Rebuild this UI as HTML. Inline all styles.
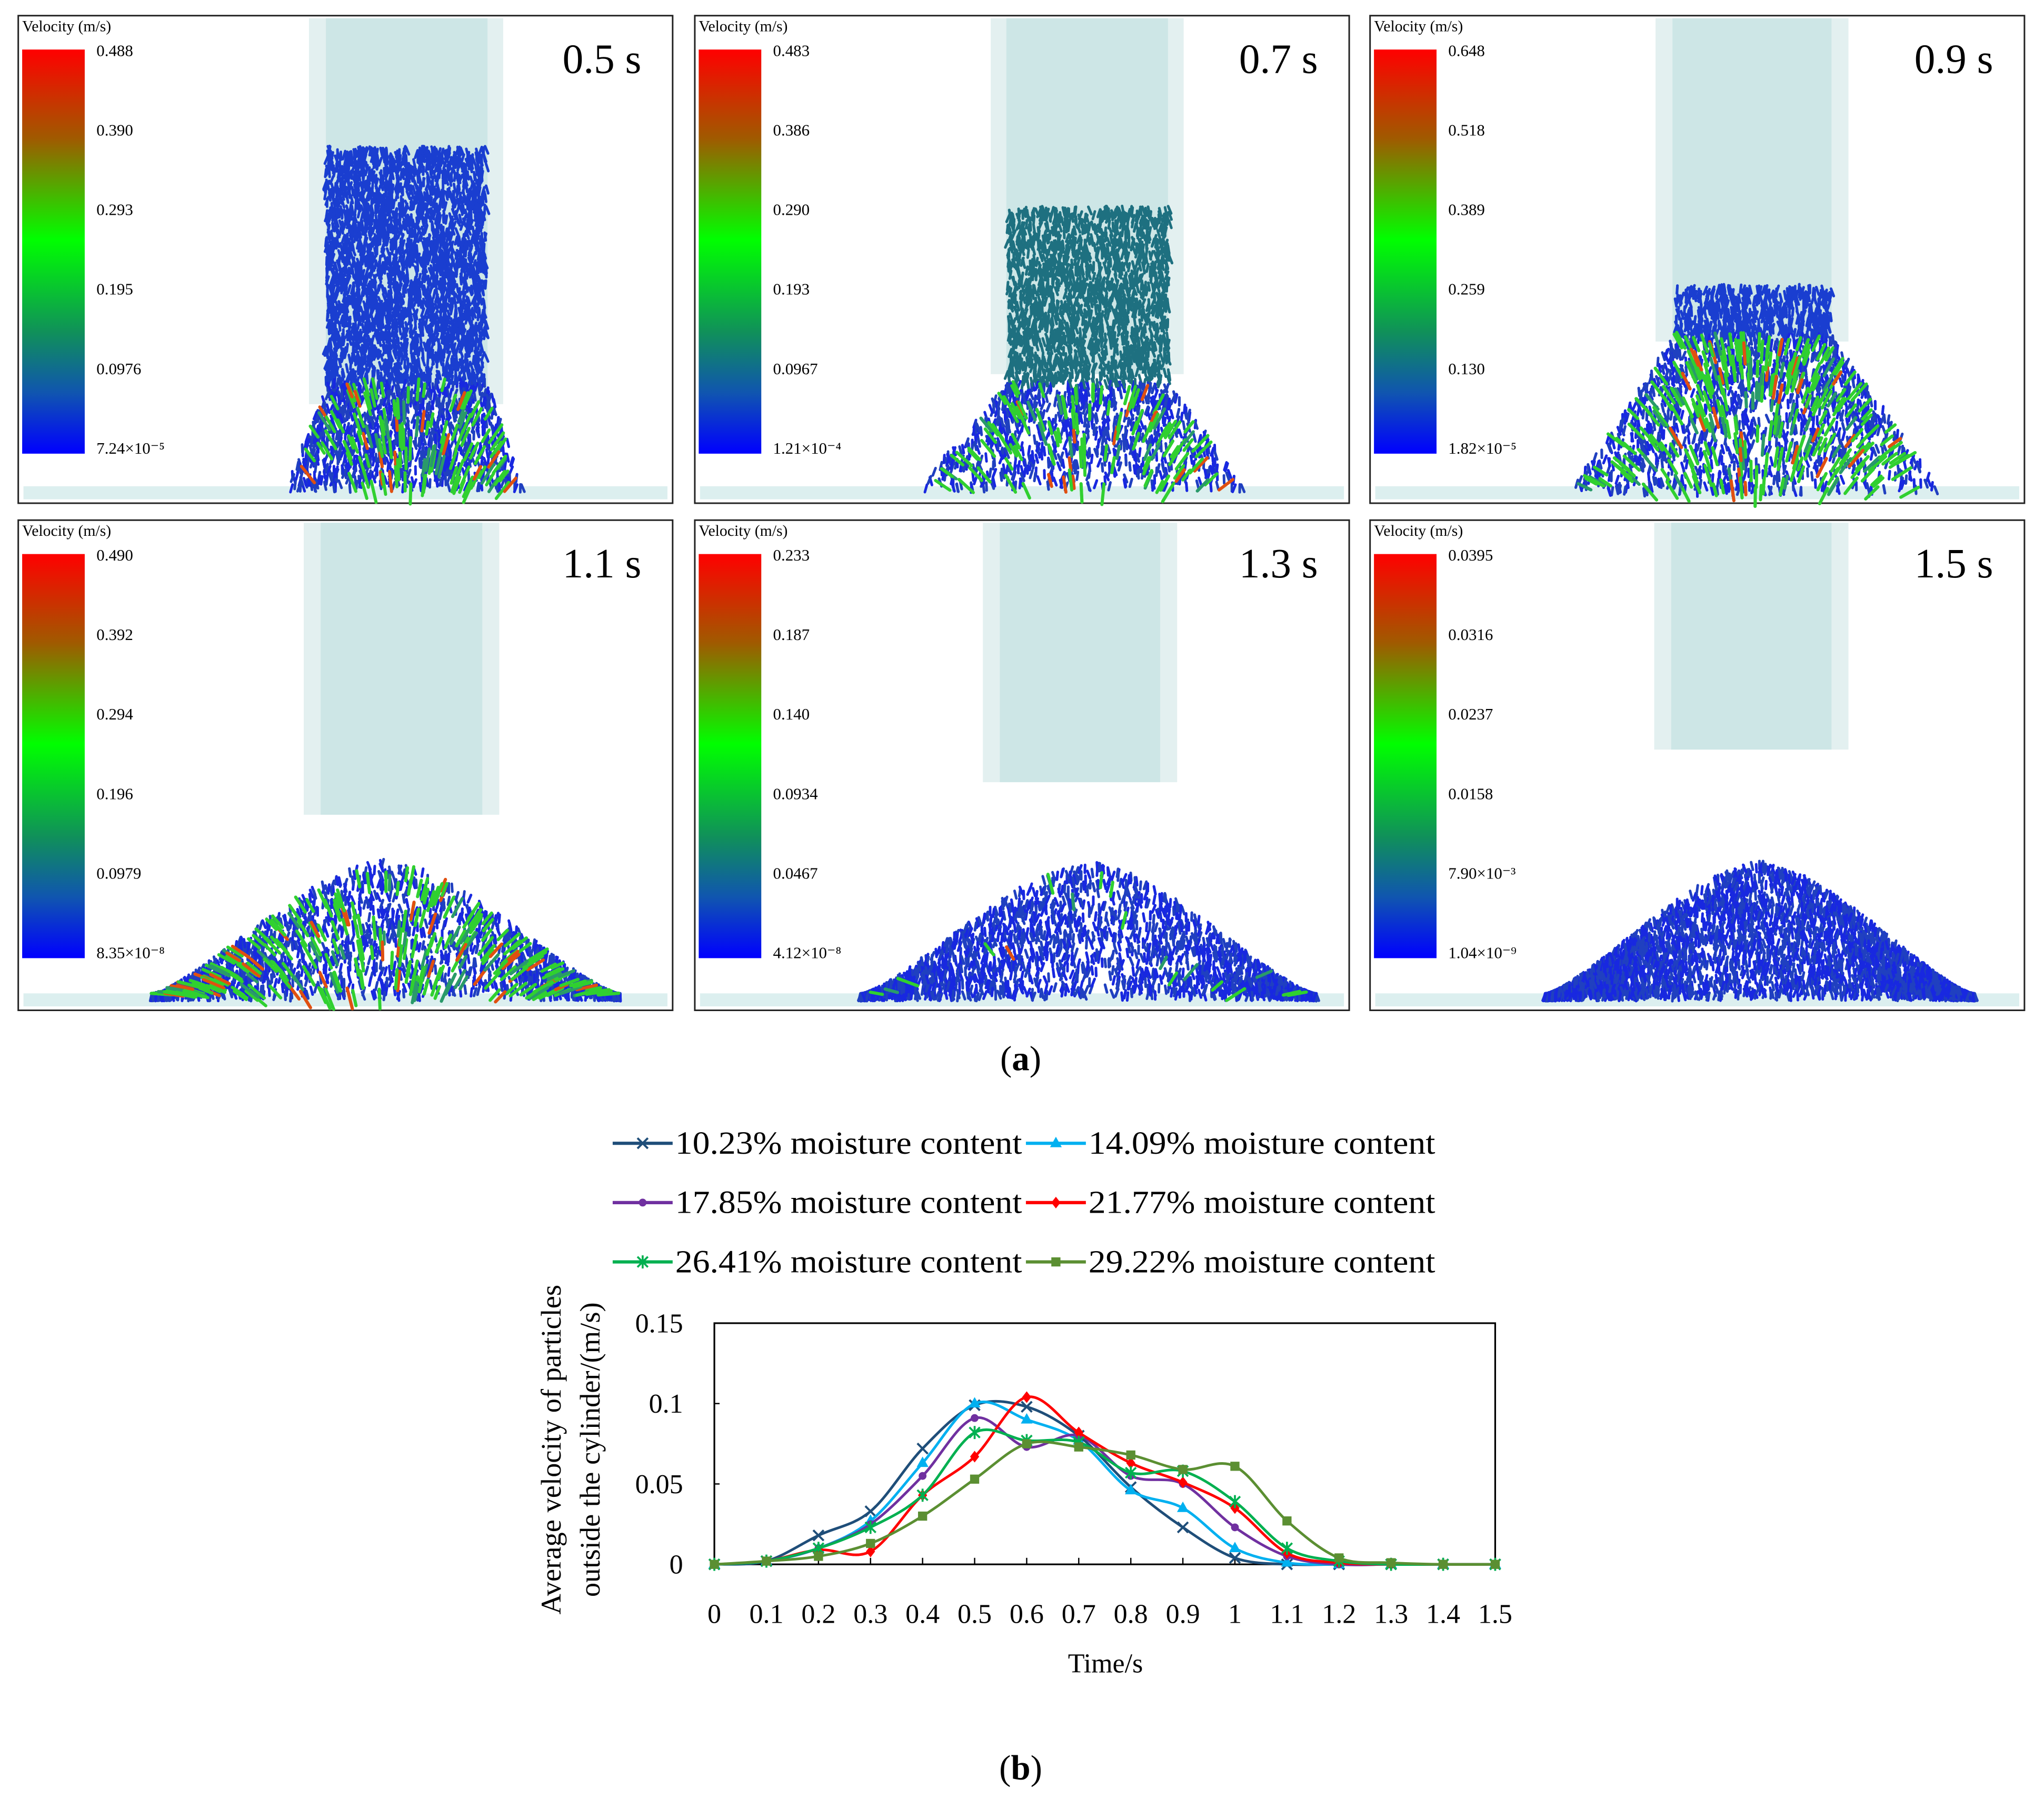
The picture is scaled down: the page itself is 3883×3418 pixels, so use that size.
<!DOCTYPE html>
<html><head><meta charset="utf-8"><style>
html,body{margin:0;padding:0;background:#fff;}
svg{display:block;}
text{font-family:"Liberation Serif",serif;}
</style></head><body>
<svg id="root" xmlns="http://www.w3.org/2000/svg" width="3883" height="3418" viewBox="0 0 1568 1380" preserveAspectRatio="none">
<defs>
<linearGradient id="cbar" x1="0" y1="0" x2="0" y2="1">
<stop offset="0" stop-color="#ff0000"/><stop offset="0.22" stop-color="#a05a00"/>
<stop offset="0.47" stop-color="#00ff00"/><stop offset="0.7" stop-color="#10905a"/>
<stop offset="0.85" stop-color="#1055b0"/><stop offset="1" stop-color="#0000ff"/>
</linearGradient>
</defs>
<g id="panels"></g>
<text x="783" y="821" text-anchor="middle" font-size="27">(<tspan font-weight="bold">a</tspan>)</text>
<text x="783" y="1365" text-anchor="middle" font-size="27">(<tspan font-weight="bold">b</tspan>)</text>
<g id="legend"></g>
<g id="chart"></g>
</svg>
<script>
// ---- chart data ----
const times = [0,0.1,0.2,0.3,0.4,0.5,0.6,0.7,0.8,0.9,1.0,1.1,1.2,1.3,1.4,1.5];
const xTickLabels = ["0","0.1","0.2","0.3","0.4","0.5","0.6","0.7","0.8","0.9","1","1.1","1.2","1.3","1.4","1.5"];
const yTicks = [0,0.05,0.1,0.15];
const yTickLabels = ["0","0.05","0.1","0.15"];
const seriesNames = ["10.23% moisture content","14.09% moisture content","17.85% moisture content","21.77% moisture content","26.41% moisture content","29.22% moisture content"];
const s1023 = [0,0.002,0.018,0.033,0.072,0.099,0.098,0.080,0.048,0.023,0.004,0,0,0,0,0];
const s1409 = [0,0.002,0.010,0.027,0.063,0.100,0.090,0.077,0.046,0.035,0.010,0.001,0,0,0,0];
const s1785 = [0,0.002,0.010,0.025,0.055,0.091,0.073,0.080,0.055,0.050,0.023,0.005,0,0,0,0];
const s2177 = [0,0.002,0.009,0.008,0.043,0.067,0.104,0.082,0.063,0.051,0.035,0.007,0.001,0,0,0];
const s2641 = [0,0.002,0.010,0.023,0.043,0.082,0.077,0.076,0.057,0.058,0.039,0.010,0.002,0,0,0];
const s2922 = [0,0.002,0.005,0.013,0.030,0.053,0.075,0.073,0.068,0.059,0.061,0.027,0.004,0.001,0,0];
const seriesVals = [s1023,s1409,s1785,s2177,s2641,s2922];
const colors = ["#1f4e79","#00b0f0","#7030a0","#ff0000","#00b050","#5b8f32"];
const markers = ["x","tri","circ","diam","star","sq"];

const NS="http://www.w3.org/2000/svg";
function mk(tag,attrs,parent){const e=document.createElementNS(NS,tag);for(const k in attrs)e.setAttribute(k,attrs[k]);if(parent)parent.appendChild(e);return e;}

// ---- panels ----
const panelsG=document.getElementById('panels');
const panels=[
 {x:14,y:12,h:374,t:"0.5 s",lab:["0.488","0.390","0.293","0.195","0.0976","7.24×10⁻⁵"],cyl:[237,386,250,374,14,310],kind:"col",col:[250,373,112,290],spread:[220,402,372],ccol:"#1a3ed0",act:0.2},
 {x:533,y:12,h:374,t:"0.7 s",lab:["0.483","0.386","0.290","0.193","0.0967","1.21×10⁻⁴"],cyl:[760,908,772,896,14,287],kind:"col",col:[773,897,158,292],spread:[705,955,372],ccol:"#1e7080",act:0.3},
 {x:1051,y:12,h:374,t:"0.9 s",lab:["0.648","0.518","0.389","0.259","0.130","1.82×10⁻⁵"],cyl:[1270,1418,1283,1405,14,262],kind:"col",col:[1285,1405,218,255],spread:[1205,1490,375],ccol:"#1a3ed0",act:0.35},
 {x:14,y:399,h:376,t:"1.1 s",lab:["0.490","0.392","0.294","0.196","0.0979","8.35×10⁻⁸"],cyl:[233,383,246,370,401,625],kind:"pile",pile:[296,180,658,762],act:0.3},
 {x:533,y:399,h:376,t:"1.3 s",lab:["0.233","0.187","0.140","0.0934","0.0467","4.12×10⁻⁸"],cyl:[754,903,767,890,401,600],kind:"pile",pile:[835,175,660,762],act:0.02},
 {x:1051,y:399,h:376,t:"1.5 s",lab:["0.0395","0.0316","0.0237","0.0158","7.90×10⁻³","1.04×10⁻⁹"],cyl:[1269,1418,1282,1405,401,575],kind:"pile",pile:[1350,165,660,762],act:0.0}
];
let seed=12345;function rnd(){seed=(seed*1103515245+12345)%2147483648;return seed/2147483648;}
panels.forEach((p,i)=>{
 const g=mk('g',{},panelsG);
 
 
 const w=502;
 const bg=mk('rect',{x:p.x,y:p.y,width:w,height:p.h,fill:'#fff',stroke:'#222','stroke-width':1.2},g);
 
 const c=p.cyl;
 const co=mk('rect',{x:c[0],y:c[4],width:c[1]-c[0],height:c[5]-c[4],fill:'#e3f0f0'},g);
 
 mk('rect',{x:c[2],y:c[4],width:c[3]-c[2],height:c[5]-c[4],fill:'#cde6e6'},g);
 const gy=p.y+p.h-13;
 const gr=mk('rect',{x:p.x+4,y:gy,width:w-8,height:10,fill:'#dcefef'},g);
 
 const cbTop=p.y+26, cbH=310;
 const cb=mk('rect',{x:p.x+3,y:cbTop,width:48,height:cbH,fill:'url(#cbar)'},g);
 
 const vt=mk('text',{x:p.x+3,y:p.y+12,'font-size':12},g);vt.textContent='Velocity (m/s)';
 
 p.lab.forEach((l,k)=>{const t=mk('text',{x:p.x+60,y:cbTop+5+k*61,'font-size':12.5},g);t.textContent=l;
  });
 const tt=mk('text',{x:p.x+478,y:p.y+44,'font-size':32,'text-anchor':'end'},g);tt.textContent=p.t;
 
 const pg=mk('g',{'stroke-linecap':'round'},g);
 
 let parts=[];
 const N=p.kind==="col"?4200:3600;
 for(let n=0;n<N;n++){
  let x,y,zone=0;
  if(p.kind==="col"){
   const [cl,cr,ct,cn]=p.col,[bl,br,by]=p.spread;
   y=ct+rnd()*(by-ct);
   if(y<cn){x=cl+rnd()*(cr-cl);zone=0;}
   else{const f=(y-cn)/(by-cn);const l=cl+(bl-cl)*f,r=cr+(br-cr)*f;x=l+rnd()*(r-l);zone=1;}
  } else {
   const [cx,hw,py,by]=p.pile;
   x=cx-hw+rnd()*2*hw;const u=Math.abs(x-cx)/hw;const top=by-(by-py)*Math.pow(Math.max(0,1-Math.pow(u,1.6)),1.4);
   y=top+rnd()*(by-top);zone=1;
  }
  let col=p.kind==="col"&&zone===0?p.ccol:(rnd()<0.5?'#1828e0':'#2040c0');
  let len=6,ang=Math.PI/2+(rnd()-0.5)*0.8,sw=2;
  if(zone===1 && rnd()<p.act*0.5){
   const r=rnd(); col=r<0.75?'#30d030':(r<0.9?'#2a9a6a':'#e05010'); len=9+rnd()*8; sw=2.4;
   const cx=p.kind==="col"?(p.col[0]+p.col[1])/2:p.pile[0];
   ang=Math.PI/2+(x-cx)/120;
  }
  parts.push([x,y,len,ang,col,sw]);
 }
 parts.sort((a,b)=>a[5]-b[5]);
 parts.forEach(q=>{mk('line',{x1:q[0].toFixed(1),y1:q[1].toFixed(1),x2:(q[0]+Math.cos(q[3])*q[2]).toFixed(1),y2:(q[1]+Math.sin(q[3])*q[2]).toFixed(1),stroke:q[4],'stroke-width':q[5]},pg);});
});

// ---- chart ----
const chart=document.getElementById('chart');
const X0=548,X1=1147,Y0=1200,Y1=1015;
const xs=t=>X0+(t/1.5)*(X1-X0);
const ys=v=>Y0-(v/0.15)*(Y0-Y1);
const frame=mk('rect',{x:X0,y:Y1,width:X1-X0,height:Y0-Y1,fill:'none',stroke:'#000','stroke-width':1.3},chart);

yTicks.forEach((v,i)=>{
 mk('line',{x1:X0,x2:X0+4,y1:ys(v),y2:ys(v),stroke:'#000'},chart);
 const t=mk('text',{x:524,y:ys(v)+7,'font-size':21,'text-anchor':'end'},chart);t.textContent=yTickLabels[i];
 
});
times.forEach((tv,i)=>{
 mk('line',{x1:xs(tv),x2:xs(tv),y1:Y0,y2:Y0-5,stroke:'#000'},chart);
 const t=mk('text',{x:xs(tv),y:1245,'font-size':21,'text-anchor':'middle'},chart);t.textContent=xTickLabels[i];
 
});
const xt=mk('text',{x:848,y:1283,'font-size':21,'text-anchor':'middle'},chart);xt.textContent='Time/s';

const yt=mk('text',{'font-size':22,'text-anchor':'middle',transform:'translate(430,1112) rotate(-90)'},chart);

const ts1=mk('tspan',{x:0,dy:0},yt);ts1.textContent='Average velocity of particles';
const ts2=mk('tspan',{x:0,dy:30},yt);ts2.textContent='outside the cylinder/(m/s)';

function marker(g,type,x,y,c){
 if(type==="x"){mk('path',{d:`M${x-4},${y-4}L${x+4},${y+4}M${x-4},${y+4}L${x+4},${y-4}`,stroke:c,'stroke-width':1.6,fill:'none'},g);}
 else if(type==="tri"){mk('path',{d:`M${x},${y-5}L${x+4.5},${y+3}L${x-4.5},${y+3}Z`,fill:c},g);}
 else if(type==="circ"){mk('circle',{cx:x,cy:y,r:3,fill:c},g);}
 else if(type==="diam"){mk('path',{d:`M${x},${y-4.5}L${x+3.5},${y}L${x},${y+4.5}L${x-3.5},${y}Z`,fill:c},g);}
 else if(type==="star"){mk('path',{d:`M${x-4},${y-4}L${x+4},${y+4}M${x-4},${y+4}L${x+4},${y-4}M${x},${y-5}L${x},${y+5}`,stroke:c,'stroke-width':1.5,fill:'none'},g);}
 else {mk('rect',{x:x-3.5,y:y-3.5,width:7,height:7,fill:c},g);}
}
function smoothPath(pts){
 let d=`M${pts[0][0]},${pts[0][1]}`;
 for(let i=0;i<pts.length-1;i++){
  const p0=pts[i-1]||pts[i],p1=pts[i],p2=pts[i+1],p3=pts[i+2]||p2;
  const c1=[p1[0]+(p2[0]-p0[0])/6,p1[1]+(p2[1]-p0[1])/6],c2=[p2[0]-(p3[0]-p1[0])/6,p2[1]-(p3[1]-p1[1])/6];
  d+=`C${c1[0].toFixed(1)},${c1[1].toFixed(1)} ${c2[0].toFixed(1)},${c2[1].toFixed(1)} ${p2[0].toFixed(1)},${p2[1].toFixed(1)}`;
 }
 return d;
}
seriesVals.forEach((vals,si)=>{
 const g=mk('g',{},chart);
 
 
 const pts=vals.map((v,i)=>[xs(times[i]),ys(v)]);
 mk('path',{d:smoothPath(pts),fill:'none',stroke:colors[si],'stroke-width':2},g);
 pts.forEach(p=>marker(g,markers[si],p[0],p[1],colors[si]));
});
const leg=document.getElementById('legend');
seriesNames.forEach((n,i)=>{
 const col=i%2,row=Math.floor(i/2);
 const lx=col===0?470:787, ly=877+row*45.5;
 const g=mk('g',{},leg);
 
 
 mk('line',{x1:lx,x2:lx+46,y1:ly,y2:ly,stroke:colors[i],'stroke-width':2.5},g);
 marker(g,markers[i],lx+23,ly,colors[i]);
 const t=mk('text',{x:lx+48,y:ly+8,'font-size':25,textLength:266,lengthAdjust:'spacingAndGlyphs'},g);
 t.textContent=n;
});
</script>
</body></html>
